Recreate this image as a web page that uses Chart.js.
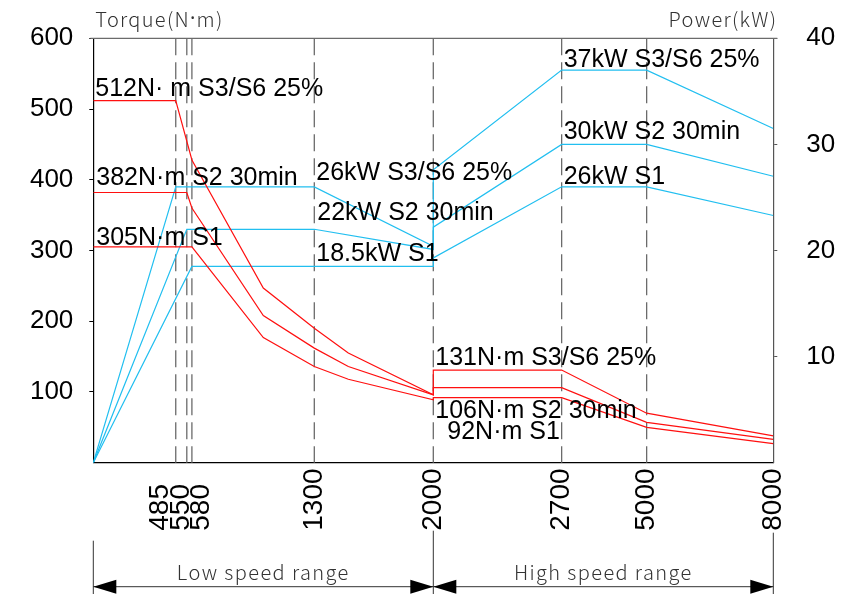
<!DOCTYPE html>
<html>
<head>
<meta charset="utf-8">
<script src="https://cdn.jsdelivr.net/npm/chart.js@4.4.1/dist/chart.umd.min.js"></script>
<style>
  html, body { margin: 0; padding: 0; background: #fff; }
  #wrap { width: 844px; height: 594px; position: relative; }
</style>
</head>
<body>
<div id="wrap"><canvas id="myChart"></canvas></div>
<script>
// speeds (rpm) marked on the x axis
const speedTicks = [485, 550, 580, 1300, 2000, 2700, 5000, 8000];

// the x axis is stretched differently above 2000 rpm: rpm -> axis position
const axisBreaksRpm = [0, 2000, 2700, 5000, 8000];
const axisBreaksPos = [0, 2000, 2755, 3255, 4000];

// torque curves (N·m)
const torqueS3Rpm = [0, 485, 580, 1000, 1300, 1500, 2000, 2000, 2700, 5000, 8000];
const torqueS3 = [512, 512, 428, 247, 190, 155, 96, 131, 131, 70, 38];
const torqueS2Rpm = [0, 550, 580, 1000, 1300, 1500, 2000, 2000, 2700, 5000, 8000];
const torqueS2 = [382, 382, 360, 208, 162, 136, 96, 106, 106, 57, 33];
const torqueS1Rpm = [0, 580, 1000, 1300, 1500, 2000, 2000, 2700, 5000, 8000];
const torqueS1 = [305, 305, 177, 136, 118, 89, 92, 92, 50, 27];

// power curves (kW)
const powerS3Rpm = [0, 485, 1300, 2000, 2000, 2700, 5000, 8000];
const powerS3 = [0, 26, 26, 20.4, 27.6, 37, 37, 31.5];
const powerS2Rpm = [0, 550, 1300, 2000, 2000, 2700, 5000, 8000];
const powerS2 = [0, 22, 22, 20.1, 22.2, 30, 30, 27];
const powerS1Rpm = [0, 580, 2000, 2000, 2700, 5000, 8000];
const powerS1 = [0, 18.5, 18.5, 19.3, 26, 26, 23.3];

const torqueTicks = [100, 200, 300, 400, 500, 600];
const powerTicks = [10, 20, 30, 40];

function pos(rpm) {
    for (let i = 1; i < axisBreaksRpm.length; i++) {
        if (rpm <= axisBreaksRpm[i]) {
            const r0 = axisBreaksRpm[i - 1], r1 = axisBreaksRpm[i];
            const p0 = axisBreaksPos[i - 1], p1 = axisBreaksPos[i];
            return p0 + (rpm - r0) / (r1 - r0) * (p1 - p0);
        }
    }
    return axisBreaksPos[axisBreaksPos.length - 1];
}

const pts = (rpms, vals) => rpms.map((r, i) => ({ x: pos(r), y: vals[i] }));

const RED = '#ff1010';
const BLUE = '#22bff0';
const NUM_FONT = '"Liberation Sans", Arial, sans-serif';
const THIN_FONT = '"Noto Sans CJK SC", "Noto Sans", sans-serif';

// draw a string in parts, the middle dot taken from a latin font
function drawMixed(ctx, parts, x, y, align) {
    const widths = parts.map(p => { ctx.font = p[1]; return ctx.measureText(p[0]).width; });
    const total = widths.reduce((a, b) => a + b, 0);
    let cx = align === 'right' ? x - total : x;
    ctx.textAlign = 'left';
    parts.forEach((p, i) => {
        ctx.font = p[1];
        ctx.fillText(p[0], cx, y);
        cx += widths[i];
    });
}

const decor = {
    id: 'decor',
    beforeDatasetsDraw(chart) {
        const { ctx, chartArea: a, scales: { x } } = chart;
        ctx.save();
        ctx.strokeStyle = '#6b6b6b';
        ctx.lineWidth = 1.3;
        ctx.setLineDash([17, 7]);
        speedTicks.forEach(s => {
            if (s === 8000) return;
            const px = x.getPixelForValue(pos(s));
            ctx.beginPath();
            ctx.moveTo(px, a.top);
            ctx.lineTo(px, a.bottom);
            ctx.stroke();
        });
        ctx.setLineDash([]);
        ctx.beginPath();
        ctx.moveTo(a.left - 3, a.top);
        ctx.lineTo(a.right + 4, a.top);
        ctx.stroke();
        ctx.restore();
    },
    afterDraw(chart) {
        const { ctx, chartArea: a, scales: { x, yT, yP } } = chart;
        ctx.save();

        // axis titles
        const thin = '300 20px ' + THIN_FONT;
        ctx.fillStyle = '#333';
        ctx.textBaseline = 'middle';
        ctx.letterSpacing = '1.3px';
        drawMixed(ctx, [['Torque(N', thin], ['·', '20px "Noto Sans", sans-serif'], ['m)', thin]], a.left + 2, 19, 'left');
        drawMixed(ctx, [['Power(kW)', thin]], a.right + 4, 19, 'right');
        ctx.letterSpacing = '0px';

        // rotated speed labels
        const nudge = { 485: -15, 550: -6, 580: 9 };
        ctx.fillStyle = '#000';
        ctx.font = '28px ' + NUM_FONT;
        ctx.textAlign = 'left';
        ctx.textBaseline = 'middle';
        speedTicks.forEach(s => {
            const px = x.getPixelForValue(pos(s)) + (nudge[s] || 0);
            ctx.save();
            ctx.translate(px, a.bottom + 68);
            ctx.rotate(-Math.PI / 2);
            ctx.fillText(String(s), 0, 0);
            ctx.restore();
        });

        // curve labels
        ctx.font = '25px ' + NUM_FONT;
        ctx.textBaseline = 'alphabetic';
        const lab = (t, rpm, dx, yPix) => ctx.fillText(t, x.getPixelForValue(pos(rpm)) + dx, yPix);
        lab('512N· m S3/S6 25%', 0, 2, yT.getPixelForValue(512) - 5);
        lab('382N·m S2 30min', 0, 3, yT.getPixelForValue(382) - 7);
        lab('305N·m S1', 0, 3, yT.getPixelForValue(305) - 2);
        lab('26kW S3/S6 25%', 1300, 2, yP.getPixelForValue(26) - 7);
        lab('22kW S2 30min', 1300, 3, yP.getPixelForValue(22) - 9);
        lab('18.5kW S1', 1300, 2, yP.getPixelForValue(18.5) - 5);
        lab('37kW S3/S6 25%', 2700, 2, yP.getPixelForValue(37) - 3);
        lab('30kW S2 30min', 2700, 2, yP.getPixelForValue(30) - 5);
        lab('26kW S1', 2700, 2, yP.getPixelForValue(26) - 3);
        lab('131N·m S3/S6 25%', 2000, 2, yT.getPixelForValue(131) - 5);
        lab('106N·m S2 30min', 2000, 2, yT.getPixelForValue(106) + 30);
        lab('92N·m S1', 2000, 14, yT.getPixelForValue(92) + 41);

        // speed range arrows
        const ends = [0, 2000, 8000].map(r => x.getPixelForValue(pos(r)));
        const starts = [78, 68, 70];
        const yA = a.bottom + 124;
        ctx.strokeStyle = '#333';
        ctx.lineWidth = 1;
        ctx.beginPath();
        ends.forEach((px, i) => {
            ctx.moveTo(px, a.bottom + starts[i]);
            ctx.lineTo(px, 594);
        });
        ctx.moveTo(ends[0], yA);
        ctx.lineTo(ends[2], yA);
        ctx.stroke();
        const head = (tipX, dir) => {
            ctx.beginPath();
            ctx.moveTo(tipX, yA);
            ctx.lineTo(tipX + dir * 23, yA - 7);
            ctx.lineTo(tipX + dir * 23, yA + 7);
            ctx.closePath();
            ctx.fill();
        };
        ctx.fillStyle = '#000';
        head(ends[0], 1);
        head(ends[1], -1);
        head(ends[1], 1);
        head(ends[2], -1);

        ctx.fillStyle = '#333';
        ctx.font = thin;
        ctx.letterSpacing = '1.4px';
        ctx.textAlign = 'center';
        ctx.textBaseline = 'middle';
        ctx.fillText('Low speed range', (ends[0] + ends[1]) / 2, a.bottom + 110);
        ctx.fillText('High speed range', (ends[1] + ends[2]) / 2, a.bottom + 110);
        ctx.restore();
    }
};

const noPad = s => { s.paddingTop = 0; s.paddingBottom = 0; s.paddingLeft = 0; s.paddingRight = 0; };

const ctx = document.getElementById('myChart');

new Chart(ctx, {
    type: 'line',
    data: {
        datasets: [
            { label: 'Torque S3/S6 25%', data: pts(torqueS3Rpm, torqueS3), borderColor: RED, yAxisID: 'yT' },
            { label: 'Torque S2 30min', data: pts(torqueS2Rpm, torqueS2), borderColor: RED, yAxisID: 'yT' },
            { label: 'Torque S1', data: pts(torqueS1Rpm, torqueS1), borderColor: RED, yAxisID: 'yT' },
            { label: 'Power S3/S6 25%', data: pts(powerS3Rpm, powerS3), borderColor: BLUE, yAxisID: 'yP' },
            { label: 'Power S2 30min', data: pts(powerS2Rpm, powerS2), borderColor: BLUE, yAxisID: 'yP' },
            { label: 'Power S1', data: pts(powerS1Rpm, powerS1), borderColor: BLUE, yAxisID: 'yP' }
        ]
    },
    options: {
        responsive: true,
        maintainAspectRatio: false,
        animation: false,
        layout: { padding: { top: 38.3, left: 0, right: 0, bottom: 0 } },
        plugins: { legend: { display: false }, tooltip: { enabled: false } },
        elements: {
            point: { radius: 0 },
            line: { borderWidth: 1.2, tension: 0, fill: false }
        },
        scales: {
            x: {
                type: 'linear',
                min: 0,
                max: 4000,
                ticks: { display: false },
                grid: { display: false },
                border: { color: '#000', width: 1.2 },
                afterBuildTicks: s => { s.ticks = speedTicks.map(v => ({ value: pos(v) })); },
                afterFit: s => { s.height = 131.3; noPad(s); }
            },
            yT: {
                position: 'left',
                min: 0,
                max: 600,
                ticks: { padding: 16, color: '#000', font: { family: NUM_FONT, size: 26 } },
                grid: { drawOnChartArea: false, tickLength: 4, color: '#000' },
                border: { color: '#000', width: 1.2 },
                afterBuildTicks: s => { s.ticks = torqueTicks.map(v => ({ value: v })); },
                afterFit: s => { s.width = 93.3; noPad(s); }
            },
            yP: {
                position: 'right',
                min: 0,
                max: 40,
                ticks: { padding: 29, color: '#000', font: { family: NUM_FONT, size: 26 } },
                grid: { drawOnChartArea: false, tickLength: 4, color: '#555' },
                border: { color: '#555', width: 1.2 },
                afterBuildTicks: s => { s.ticks = powerTicks.map(v => ({ value: v })); },
                afterFit: s => { s.width = 70.7; noPad(s); }
            }
        }
    },
    plugins: [decor]
});
</script>
</body>
</html>
